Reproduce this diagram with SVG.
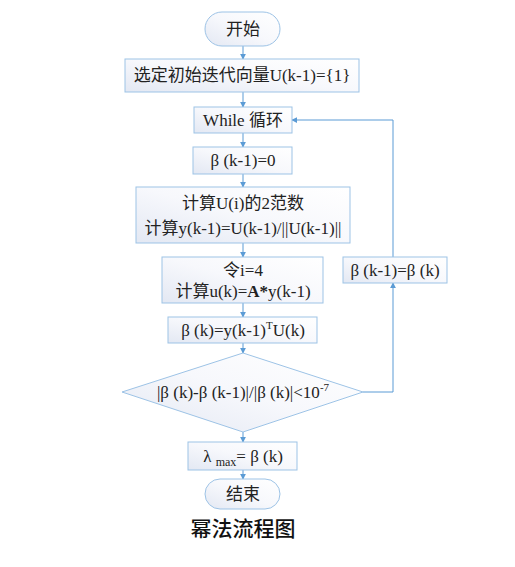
<svg xmlns="http://www.w3.org/2000/svg" width="515" height="567" viewBox="0 0 515 567">
<defs>
<linearGradient id="g" x1="1" y1="0" x2="0" y2="1">
<stop offset="0" stop-color="#ffffff"/>
<stop offset="0.5" stop-color="#f7f8fc"/>
<stop offset="1" stop-color="#e3e8f3"/>
</linearGradient>
<marker id="ar" viewBox="0 0 8 8" refX="7" refY="4" markerWidth="6" markerHeight="6" orient="auto" markerUnits="userSpaceOnUse">
<path d="M0,0 L8,4 L0,8 z" fill="#5b9bd5"/>
</marker>
<style>
.n{fill:url(#g);stroke:#9dc3e6;stroke-width:1}
.t{font-family:"Liberation Serif","Noto Sans CJK SC",serif;font-size:17px;fill:#222;text-anchor:middle}
.c{fill:none;stroke:#5b9bd5;stroke-width:1;marker-end:url(#ar)}
</style>
</defs>
<rect width="515" height="567" fill="#fff"/>
<g id="connectors">
<path class="c" d="M243,46 V59"/>
<path class="c" d="M243,92 V107"/>
<path class="c" d="M243,133 V147"/>
<path class="c" d="M243,174 V187"/>
<path class="c" d="M243,243 V257"/>
<path class="c" d="M243,303 V317"/>
<path class="c" d="M243,343 V353"/>
<path class="c" d="M243,432 V442"/>
<path class="c" d="M243,470 V479"/>
<path class="c" d="M363,392 H393 V283"/>
<path class="c" d="M393,257 V120 H292"/>
</g>
<g id="start">
<rect class="n" x="205" y="12" width="75" height="34" rx="17"/>
<text class="t" x="243" y="35">开始</text>
</g>
<g id="init">
<rect class="n" x="125" y="59" width="234" height="33"/>
<text class="t" x="242" y="81">选定初始迭代向量U(k-1)={1}</text>
</g>
<g id="while">
<rect class="n" x="194" y="107" width="98" height="26"/>
<text class="t" x="243" y="126">While 循环</text>
</g>
<g id="beta0">
<rect class="n" x="193" y="147" width="99" height="27"/>
<text class="t" x="243" y="166">β (k-1)=0</text>
</g>
<g id="norm">
<rect class="n" x="136" y="187" width="214" height="56"/>
<text class="t" x="243" y="209">计算U(i)的2范数</text>
<text class="t" x="243" y="234">计算y(k-1)=U(k-1)/||U(k-1)||</text>
</g>
<g id="calcu">
<rect class="n" x="162" y="257" width="161" height="46"/>
<text class="t" x="243" y="276">令i=4</text>
<text class="t" x="243" y="297">计算u(k)=<tspan font-weight="bold">A*</tspan>y(k-1)</text>
</g>
<g id="betak">
<rect class="n" x="168" y="317" width="149" height="26"/>
<text class="t" x="243" y="336">β (k)=y(k-1)<tspan font-size="11" dy="-7">T</tspan><tspan dy="7">U(k)</tspan></text>
</g>
<g id="cond">
<polygon class="n" points="243,353 363,392 243,432 122,392"/>
<text class="t" x="243" y="398">|β (k)-β (k-1)|/|β (k)|&lt;10<tspan font-size="11" dy="-7">-7</tspan></text>
</g>
<g id="update">
<rect class="n" x="343" y="257" width="104" height="26"/>
<text class="t" x="395" y="276">β (k-1)=β (k)</text>
</g>
<g id="lambda">
<rect class="n" x="188" y="442" width="109" height="28"/>
<text class="t" x="243" y="462">λ <tspan font-size="12" dy="4">max</tspan><tspan dy="-4">= β (k)</tspan></text>
</g>
<g id="end">
<rect class="n" x="205" y="479" width="75" height="30" rx="15"/>
<text class="t" x="243" y="500">结束</text>
</g>
<text x="243" y="536" font-family="'Noto Sans CJK SC',sans-serif" font-size="21" font-weight="500" fill="#111" text-anchor="middle">幂法流程图</text>
</svg>
